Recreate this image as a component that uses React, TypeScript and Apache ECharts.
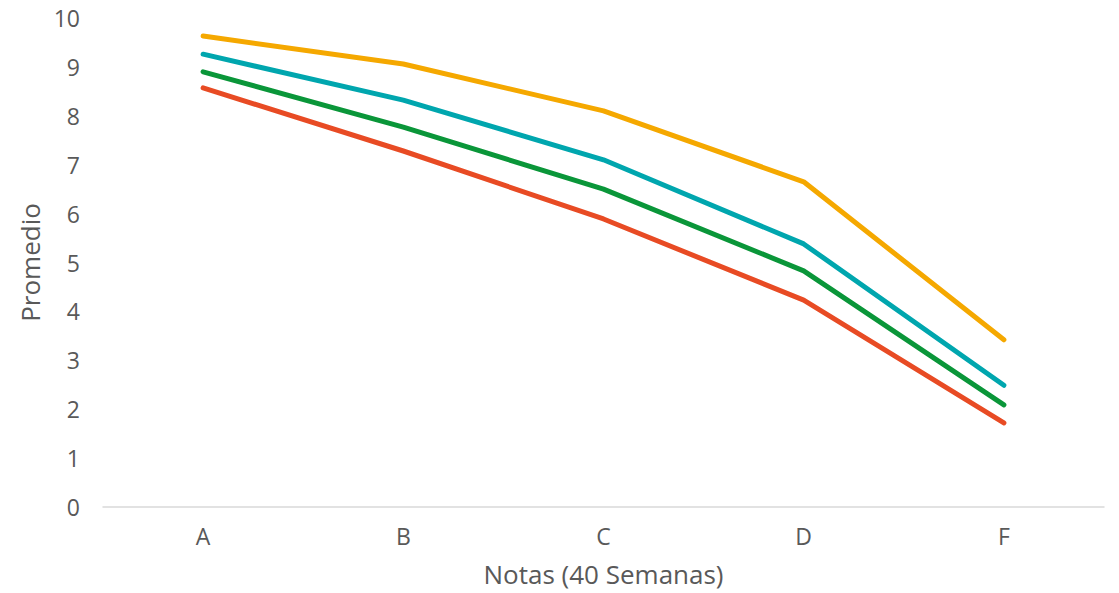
import React, { useEffect, useRef } from "react";
import * as echarts from "echarts";

const categories = ["A", "B", "C", "D", "F"];
const seriesOrange = [9.63, 9.06, 8.1, 6.65, 3.42];
const seriesTeal = [9.26, 8.32, 7.1, 5.38, 2.49];
const seriesGreen = [8.9, 7.77, 6.5, 4.83, 2.09];
const seriesRed = [8.57, 7.28, 5.89, 4.23, 1.72];
const seriesNames = ["Serie 1", "Serie 2", "Serie 3", "Serie 4"];
const colors = ["#F5A800", "#00A6AE", "#0A9639", "#E84B24"];

export default function App() {
  const ref = useRef<HTMLDivElement>(null);
  useEffect(() => {
    if (!ref.current) return;
    const chart = echarts.init(ref.current, null, { renderer: "svg" });
    const font = "'Open Sans', Lato, sans-serif";
    const data = [seriesOrange, seriesTeal, seriesGreen, seriesRed];
    chart.setOption({
      animation: false,
      backgroundColor: "#ffffff",
      textStyle: { fontFamily: font },
      grid: { left: 103, right: 15, top: 18, bottom: 86, containLabel: false },
      xAxis: {
        type: "category",
        data: categories,
        boundaryGap: true,
        name: "Notas (40 Semanas)",
        nameLocation: "middle",
        nameGap: 54,
        nameTextStyle: { color: "#595959", fontSize: 26, fontFamily: font },
        axisLine: { show: true, lineStyle: { color: "#D9D9D9", width: 1.5 } },
        axisTick: { show: false },
        axisLabel: { color: "#595959", fontSize: 23, margin: 17, fontFamily: font },
        splitLine: { show: false },
      },
      yAxis: {
        type: "value",
        min: 0,
        max: 10,
        interval: 1,
        name: "Promedio",
        nameLocation: "middle",
        nameGap: 60,
        nameTextStyle: { color: "#595959", fontSize: 26, fontFamily: font },
        axisLine: { show: false },
        axisTick: { show: false },
        axisLabel: { color: "#595959", fontSize: 23, margin: 23, fontFamily: font },
        splitLine: { show: false },
      },
      series: data.map((d, i) => ({
        name: seriesNames[i],
        type: "line",
        data: d,
        symbol: "none",
        lineStyle: { color: colors[i], width: 5, cap: "round", join: "round" },
        itemStyle: { color: colors[i] },
      })),
    });
    return () => chart.dispose();
  }, []);
  return (
    <div
      ref={ref}
      style={{ position: "fixed", left: 0, top: 0, width: 1119, height: 593 }}
    />
  );
}
